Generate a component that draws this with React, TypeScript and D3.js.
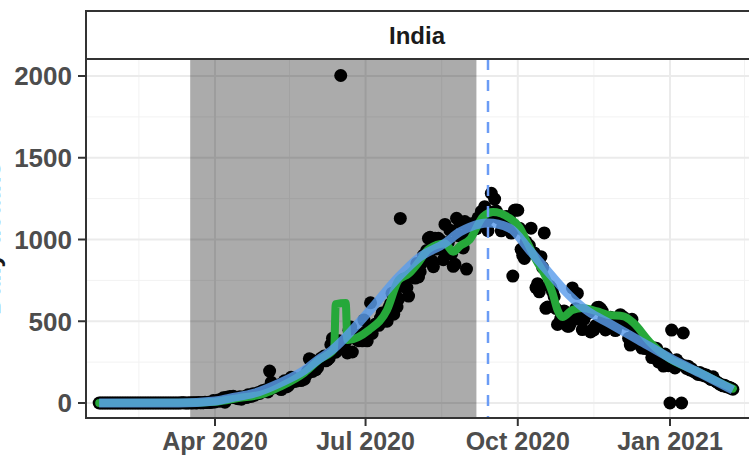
import React from 'react';
import * as d3 from 'd3';

// ---------- data ----------
const START_DATE = '2020-01-22';
// daily reported deaths, one value per day from START_DATE
const dailyDeaths: number[] = [
  // Jan 22-31
  0, 0, 0, 0, 0, 0, 0, 0, 0, 0,
  // Feb
  0, 0, 0, 0, 0, 0, 0, 0, 0, 0, 0, 0, 0, 0, 0, 0, 0, 0, 0, 0, 0, 0, 0, 0, 0, 0, 0, 0, 0,
  // Mar
  0, 0, 0, 0, 0, 0, 0, 0, 0, 0, 0, 1, 1, 0, 0, 0, 1, 0, 1, 1, 0, 3, 2, 1, 2, 4, 3, 5, 3, 4, 15,
  // Apr
  6, 12, 18, 11, 17, 32, 5, 35, 30, 40, 33, 42, 35, 29, 26, 38, 23, 37, 36, 33, 50, 40, 41, 57, 48, 56, 62, 58, 71, 77,
  // May
  72, 83, 68, 195, 127, 92, 104, 103, 95, 111, 82, 121, 136, 98, 103, 115, 157, 154, 132, 134, 140, 148, 137, 147, 146, 170, 194, 270, 265, 193, 230,
  // Jun
  204, 217, 259, 273, 260, 287, 258, 265, 274, 357, 396, 386, 311, 325, 380, 2003, 334, 336, 375, 306, 445, 465, 312, 418, 413, 386, 381, 417, 380, 507,
  // Jul
  434, 380, 442, 613, 425, 467, 482, 487, 475, 519, 551, 500, 553, 500, 582, 606, 671, 543, 681, 587, 637, 1129, 740, 757, 708, 706, 654, 779, 775, 768, 764,
  // Aug
  853, 771, 803, 857, 904, 886, 933, 1007, 1013, 871, 834, 1007, 942, 1007, 996, 941, 876, 1092, 977, 983, 1057, 912, 836, 848, 1130, 1023, 1100, 1021, 948, 1110, 819,
  // Sep
  1045, 1054, 1096, 1065, 1089, 1066, 1133, 1115, 1172, 1089, 1201, 1114, 1054, 1136, 1283, 1168, 1247, 1174, 1133, 1130, 1053, 1085, 1129, 1141, 1089, 1124, 1039, 776, 1179, 1181,
  // Oct
  1179, 1069, 940, 903, 884, 986, 971, 963, 1069, 918, 918, 706, 730, 680, 895, 830, 1040, 579, 587, 717, 706, 680, 650, 578, 480, 488, 517, 543, 563, 551, 470,
  // Nov
  470, 490, 704, 514, 577, 670, 559, 510, 449, 512, 550, 547, 554, 435, 449, 447, 474, 584, 585, 577, 562, 511, 447, 488, 518, 524, 492, 485, 443, 482,
  // Dec
  482, 540, 501, 524, 511, 482, 396, 354, 512, 411, 442, 391, 387, 354, 336, 355, 333, 347, 341, 336, 278, 301, 336, 333, 251, 279, 251, 226, 299, 286, 228,
  // Jan 2021
  0, 446, 239, 214, 264, 232, 241, 0, 428, 228, 212, 225, 202, 210, 195, 190, 182, 175, 186, 172, 178, 165, 171, 158, 150, 143, 160, 138, 130, 124, 116,
  // Feb 2021
  112, 105, 108, 100, 98, 95, 90, 84,
];

// rolling-average line (green)
const avgDates = [
  '2020-01-22', '2020-03-15', '2020-04-01', '2020-04-15', '2020-05-01', '2020-05-10', '2020-05-25', '2020-06-03',
  '2020-06-12', '2020-06-13', '2020-06-19', '2020-06-20', '2020-07-03', '2020-07-14', '2020-07-21', '2020-07-27',
  '2020-08-02', '2020-08-08', '2020-08-18', '2020-08-23', '2020-08-27', '2020-09-02', '2020-09-10', '2020-09-16',
  '2020-09-26', '2020-10-02', '2020-10-06', '2020-10-12', '2020-10-18', '2020-10-22', '2020-10-25', '2020-10-28',
  '2020-11-03', '2020-11-09', '2020-11-18', '2020-11-24', '2020-12-04', '2020-12-10', '2020-12-20', '2021-01-01',
  '2021-01-10', '2021-01-19', '2021-01-30', '2021-02-08',
];
const avgValues = [
  0, 1, 8, 30, 58, 98, 185, 265,
  330, 605, 612, 385, 446, 569, 752, 790,
  860, 940, 975, 925, 960, 1000, 1140, 1168,
  1131, 1076, 997, 875, 771, 673, 569, 526,
  569, 581, 560, 540, 530, 489, 370, 270,
  225, 185, 130, 88,
];

// smoothed trend (blue)
const smoothDates = [
  '2020-01-22', '2020-03-10', '2020-04-01', '2020-04-10', '2020-04-25', '2020-05-10', '2020-05-25', '2020-06-03',
  '2020-06-10', '2020-07-03', '2020-07-21', '2020-08-02', '2020-08-18', '2020-08-27', '2020-09-02', '2020-09-13',
  '2020-09-26', '2020-10-08', '2020-10-20', '2020-11-01', '2020-11-13', '2020-11-25', '2020-12-13', '2021-01-01',
  '2021-01-19', '2021-02-08',
];
const smoothValues = [
  0, 0, 12, 30, 61, 122, 200, 270,
  318, 560, 771, 887, 978, 1046, 1076, 1101,
  1070, 936, 795, 660, 557, 489, 385, 275,
  183, 80,
];

const yTicks = [0, 500, 1000, 1500, 2000];
const yMinorTicks = [250, 750, 1250, 1750];
const xTickDates = ['2020-04-01', '2020-07-01', '2020-10-01', '2021-01-01'];
const xTickLabels = ['Apr 2020', 'Jul 2020', 'Oct 2020', 'Jan 2021'];
const xMinorDates = ['2020-02-15', '2020-05-16', '2020-08-16', '2020-11-16', '2021-02-15'];
const shadeStart = '2020-03-17';
const shadeEnd = '2020-09-06';
const markerDate = '2020-09-13';
const facetLabel = 'India';
const yTitle = 'Daily deaths';

// ---------- layout ----------
const W = 749;
const H = 456;
const panel = { left: 86, right: 750, top: 59, bottom: 418 };
const stripTop = 11;
const FONT = '"Liberation Sans", Arial, Helvetica, sans-serif';

const parse = d3.utcParse('%Y-%m-%d');
const P = (s: string) => parse(s) as Date;

export default function App() {
  const x = d3.scaleUtc().domain([P('2020-04-01'), P('2021-01-01')]).range([215, 670]);
  const y = d3.scaleLinear().domain([0, 2000]).range([403, 76]);

  const start = P(START_DATE);
  const points = dailyDeaths.map((v, i) => ({ d: d3.utcDay.offset(start, i), v }));
  const avg = avgDates.map((d, i) => ({ d: P(d), v: avgValues[i] }));
  const smooth = smoothDates.map((d, i) => ({ d: P(d), v: smoothValues[i] }));

  const line = d3
    .line<{ d: Date; v: number }>()
    .x((p) => x(p.d))
    .y((p) => y(p.v))
    .curve(d3.curveMonotoneX);

  const pw = panel.right - panel.left;
  const ph = panel.bottom - panel.top;

  return (
    <div style={{ position: 'absolute', left: 0, top: 0 }}>
      <svg width={W} height={H} style={{ display: 'block' }}>
        <defs>
          <clipPath id="panelClip">
            <rect x={panel.left} y={panel.top} width={pw} height={ph} />
          </clipPath>
        </defs>
        <rect x={0} y={0} width={W} height={H} fill="#ffffff" />

        {/* y title (mostly outside the visible area, as in the reference) */}
        <text
          transform={`translate(0,${(panel.top + panel.bottom) / 2}) rotate(-90)`}
          textAnchor="middle"
          fontFamily={FONT}
          fontWeight="bold"
          fontSize={26}
          fill="#1a1a1a"
        >
          {yTitle}
        </text>

        {/* panel background + grid */}
        <g clipPath="url(#panelClip)">
          <rect x={panel.left} y={panel.top} width={pw} height={ph} fill="#ffffff" />
          {yMinorTicks.map((t) => (
            <line key={'ym' + t} x1={panel.left} x2={panel.right} y1={y(t)} y2={y(t)} stroke="#f2f2f2" strokeWidth={1} />
          ))}
          {xMinorDates.map((t) => (
            <line key={'xm' + t} y1={panel.top} y2={panel.bottom} x1={x(P(t))} x2={x(P(t))} stroke="#f2f2f2" strokeWidth={1} />
          ))}
          {yTicks.map((t) => (
            <line key={'yM' + t} x1={panel.left} x2={panel.right} y1={y(t)} y2={y(t)} stroke="#ebebeb" strokeWidth={2} />
          ))}
          {xTickDates.map((t) => (
            <line key={'xM' + t} y1={panel.top} y2={panel.bottom} x1={x(P(t))} x2={x(P(t))} stroke="#ebebeb" strokeWidth={2} />
          ))}

          {/* shaded period */}
          <rect
            x={x(P(shadeStart))}
            y={panel.top}
            width={x(P(shadeEnd)) - x(P(shadeStart))}
            height={ph}
            fill="#000000"
            fillOpacity={0.33}
          />

          {/* points */}
          {points.map((p, i) => (
            <circle key={i} cx={x(p.d)} cy={y(p.v)} r={6.5} fill="#000000" />
          ))}

          {/* rolling average */}
          <path d={line(avg) || ''} fill="none" stroke="#26a83a" strokeWidth={8} strokeLinejoin="round" strokeLinecap="round" />
          {/* smooth */}
          <path d={line(smooth) || ''} fill="none" stroke="#5a9ceb" strokeOpacity={0.82} strokeWidth={9} strokeLinejoin="round" />

          {/* marker date */}
          <line
            x1={x(P(markerDate))}
            x2={x(P(markerDate))}
            y1={panel.top}
            y2={panel.bottom}
            stroke="#6b9cf5"
            strokeWidth={2.5}
            strokeDasharray="11,10"
          />
        </g>

        {/* panel border */}
        <rect x={panel.left} y={panel.top} width={pw} height={ph} fill="none" stroke="#333333" strokeWidth={2} />

        {/* strip */}
        <rect x={panel.left} y={stripTop} width={pw} height={panel.top - stripTop} fill="#ffffff" stroke="#333333" strokeWidth={2} />
        <text
          x={(panel.left + 748) / 2}
          y={(stripTop + panel.top) / 2}
          dy="0.36em"
          textAnchor="middle"
          fontFamily={FONT}
          fontWeight="bold"
          fontSize={24}
          fill="#1a1a1a"
        >
          {facetLabel}
        </text>

        {/* y axis */}
        {yTicks.map((t) => (
          <g key={'yt' + t}>
            <line x1={panel.left - 8} x2={panel.left} y1={y(t)} y2={y(t)} stroke="#333333" strokeWidth={2} />
            <text
              x={panel.left - 14}
              y={y(t)}
              dy="0.36em"
              textAnchor="end"
              fontFamily={FONT}
              fontWeight="bold"
              fontSize={26}
              fill="#4d4d4d"
            >
              {t}
            </text>
          </g>
        ))}

        {/* x axis */}
        {xTickDates.map((t, i) => (
          <g key={'xt' + t}>
            <line x1={x(P(t))} x2={x(P(t))} y1={panel.bottom} y2={panel.bottom + 8} stroke="#333333" strokeWidth={2} />
            <text
              x={x(P(t))}
              y={450}
              textAnchor="middle"
              fontFamily={FONT}
              fontWeight="bold"
              fontSize={25}
              fill="#4d4d4d"
            >
              {xTickLabels[i]}
            </text>
          </g>
        ))}
      </svg>
    </div>
  );
}
